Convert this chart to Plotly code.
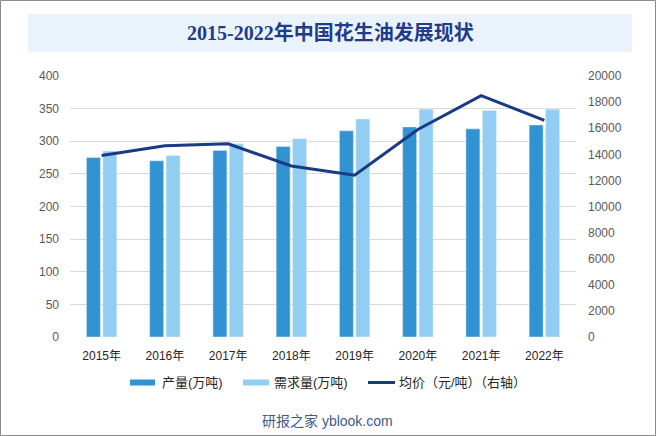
import plotly.graph_objects as go

years = ['2015年', '2016年', '2017年', '2018年', '2019年', '2020年', '2021年', '2022年']
output = [275, 270, 286, 292, 316, 322, 319, 325]
demand = [285, 278, 296, 304, 334, 349, 347, 349]
price = [13900, 14650, 14800, 13100, 12400, 15900, 18500, 16600]

legend_names = ['产量(万吨)', '需求量(万吨)', '均价（元/吨）（右轴）']

DARK = '#3193d1'
LIGHT = '#92cef2'
NAVY = '#1a3a85'
FONT = 'Liberation Sans, Arial, Noto Sans CJK SC, sans-serif'

# plot area in pixels: x 70..576, y 76..337
L, R, T, B = 70, 576, 76, 337
W, H = R - L, B - T


def px(x):
    return (x - L) / W


def py(y):
    return (B - y) / H


fig = go.Figure()
fig.add_trace(go.Bar(x=years, y=output, name=legend_names[0], marker_color=DARK))
fig.add_trace(go.Bar(x=years, y=demand, name=legend_names[1], marker_color=LIGHT))
fig.add_trace(go.Scatter(x=years, y=price, name=legend_names[2], yaxis='y2', mode='lines',
                         line=dict(color=NAVY, width=3)))

# hand-drawn legend: wide flat swatches like the original
shapes = [
    dict(type='rect', xref='paper', yref='paper', x0=px(0.5), x1=px(655.5), y0=py(435.5), y1=py(0.5),
         line=dict(color='#8c8c8c', width=1), fillcolor='rgba(0,0,0,0)', layer='below'),
    dict(type='rect', xref='paper', yref='paper', x0=px(28), x1=px(632), y0=py(52), y1=py(14),
         line=dict(width=0), fillcolor='#eaf2fc', layer='below'),
]
annotations = []
legend_x = [(130, 155, 160), (243, 269, 272), (368, 395, 397)]
for i, (sx0, sx1, tx) in enumerate(legend_x):
    color = [DARK, LIGHT, NAVY][i]
    half = 3 if i < 2 else 1.5
    shapes.append(dict(type='rect', xref='paper', yref='paper', x0=px(sx0), x1=px(sx1),
                       y0=py(382.5 + half), y1=py(382.5 - half), line=dict(width=0), fillcolor=color))
    annotations.append(dict(text=legend_names[i], xref='paper', yref='paper', x=px(tx), y=py(382),
                            xanchor='left', yanchor='middle', showarrow=False,
                            font=dict(size=13, color='#262626')))

annotations += [
    dict(text='<b>2015-2022年中国花生油发展现状</b>', xref='paper', yref='paper', x=px(330), y=py(33),
         xanchor='center', yanchor='middle', showarrow=False,
         font=dict(family='Liberation Serif, Noto Sans CJK SC, serif', size=20, color='#1f3b8a')),
    dict(text='研报之家 yblook.com', xref='paper', yref='paper', x=px(327), y=py(421),
         xanchor='center', yanchor='middle', showarrow=False,
         font=dict(size=14, color='#3d5b8a')),
]

fig.update_layout(
    width=656, height=436,
    paper_bgcolor='white', plot_bgcolor='white',
    margin=dict(l=L, r=656 - R, t=T, b=436 - B),
    font=dict(family=FONT, color='#595959', size=12),
    barmode='group', bargap=0.48, bargroupgap=0.15,
    showlegend=False,
    xaxis=dict(showgrid=False, ticks='', showline=False, tickfont=dict(size=12, color='#262626'),
               ticklabelstandoff=10),
    yaxis=dict(range=[0, 400], dtick=50, gridcolor='#d9d9d9', gridwidth=1, zeroline=False,
               showline=False, ticks='', tickfont=dict(size=12, color='#595959'),
               ticklabelstandoff=10),
    yaxis2=dict(range=[0, 20000], dtick=2000, tickformat='d', overlaying='y', side='right',
                showgrid=False, zeroline=False, showline=False, ticks='',
                tickfont=dict(size=12, color='#595959'), ticklabelstandoff=11),
    shapes=shapes,
    annotations=annotations,
)

fig.write_html('out.html', config=dict(displayModeBar=False),
               post_script="document.body.style.margin='0';")
